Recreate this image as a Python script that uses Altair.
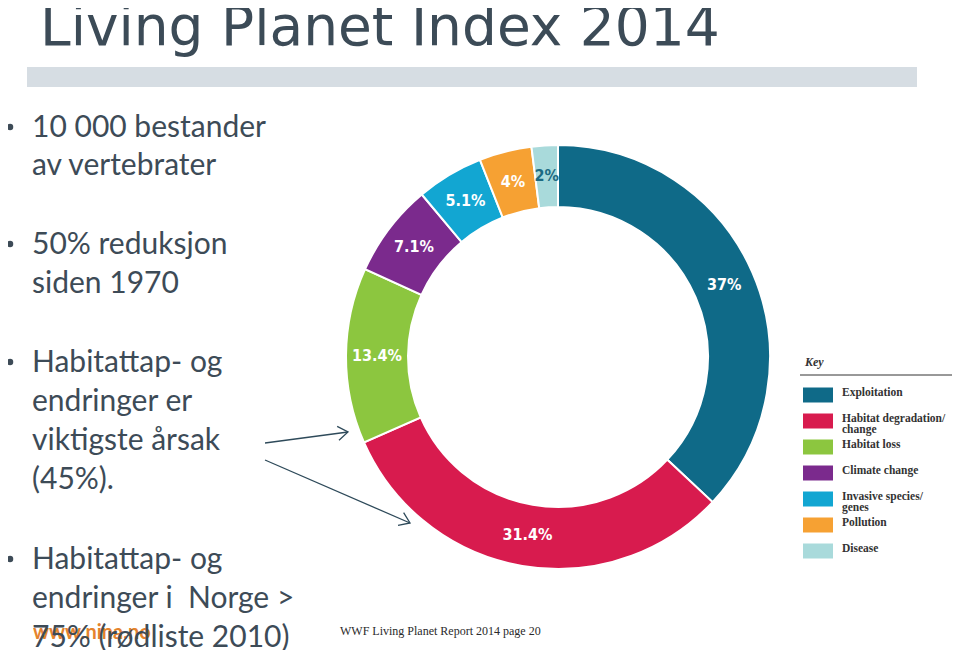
import altair as alt
import pandas as pd

# ---- data ----
causes = ["Exploitation", "Habitat degradation/change", "Habitat loss",
          "Climate change", "Invasive species/genes", "Pollution", "Disease"]
shares = [37, 31.4, 13.4, 7.1, 5.1, 4, 2]
pct_labels = ["37%", "31.4%", "13.4%", "7.1%", "5.1%", "4%", "2%"]
legend_labels = ["Exploitation", "Habitat degradation/\nchange", "Habitat loss",
                 "Climate change", "Invasive species/\ngenes", "Pollution", "Disease"]
colors = ["#0f6a88", "#d81b4e", "#8cc63f", "#7b2a8d", "#12a6d2", "#f6a133", "#a9dadb"]

title_text = "Living Planet Index 2014"
bullets = [
    ["10 000 bestander", "av vertebrater"],
    ["50% reduksjon", "siden 1970"],
    ["Habitattap- og", "endringer er", "viktigste årsak", "(45%)."],
    ["Habitattap- og", "endringer i\u00a0 Norge >", "75% (rødliste 2010)"],
]
source_text = "WWF Living Planet Report 2014 page 20"
site_text = "www.nina.no"

df = pd.DataFrame({"cause": causes, "share": shares, "pct": pct_labels,
                   "leg": legend_labels, "idx": list(range(len(causes)))})
one = pd.DataFrame({"a": [0]})

TEXT_COL = "#3d4b57"
BODY_FONT = "Lato"

color_enc = alt.Color("cause:N", scale=alt.Scale(domain=causes, range=colors), legend=None)
CX, CY = 550, 349

base = alt.Chart(df).encode(
    theta=alt.Theta("share:Q", stack=True),
    order=alt.Order("idx:Q"),
)
arcs = base.mark_arc(outerRadius=212, innerRadius=150, stroke="white", strokeWidth=2).encode(
    color=color_enc, x=alt.value(CX), y=alt.value(CY))
pct = base.mark_text(radius=181, font="'DejaVu Sans Condensed', 'Liberation Sans Narrow', Roboto",
                     fontSize=16, fontWeight="bold").encode(
    text="pct:N", x=alt.value(CX), y=alt.value(CY),
    color=alt.condition(alt.datum.cause == "Disease", alt.value("#1c6a82"), alt.value("white")))

# legend (built from categories)
leg_y = alt.Y("cause:N", sort=causes,
              scale=alt.Scale(type="point", range=[387, 543], padding=0), axis=None)
leg_sw = alt.Chart(df).mark_point(shape="M-1,-0.5H1V0.5H-1Z", filled=True, size=900,
                                  opacity=1, strokeWidth=0).encode(
    y=leg_y, x=alt.value(810), color=color_enc)
leg_tx = alt.Chart(df).mark_text(align="left", baseline="middle", lineBreak="\n",
                                 font="Liberation Serif", fontSize=11.5, fontWeight="bold",
                                 color="#333333", lineHeight=11, dy=-2).encode(
    y=leg_y, x=alt.value(834), text="leg:N")
key_t = alt.Chart(one).mark_text(align="left", baseline="middle", font="Liberation Serif",
                                 fontSize=12, fontStyle="italic", fontWeight="bold",
                                 color="#333333", text="Key").encode(
    x=alt.value(797), y=alt.value(354))
key_rule = alt.Chart(one).mark_rule(color="#333333", strokeWidth=1).encode(
    x=alt.value(792), x2=alt.value(944), y=alt.value(367))

# slide decorations
bar = alt.Chart(one).mark_rect(color="#d6dde3").encode(
    x=alt.value(19), x2=alt.value(909), y=alt.value(59), y2=alt.value(79))
title = alt.Chart(one).mark_text(align="left", baseline="alphabetic", font="DejaVu Sans",
                                 fontSize=55, color="#3c4b57", text=title_text).encode(
    x=alt.value(32), y=alt.value(37))

layers = [bar, title]
site = alt.Chart(one).mark_text(align="left", baseline="middle", font=BODY_FONT, fontSize=20,
                                fontWeight="bold", color="#e47d22", opacity=0.95,
                                text=site_text).encode(x=alt.value(25), y=alt.value(625))
layers.append(site)

starts = [129, 246, 364, 561]
gaps = [38, 39, 39, 39]
for block, y0, g in zip(bullets, starts, gaps):
    layers.append(alt.Chart(one).mark_point(shape="circle", filled=True, size=42, opacity=1,
                                            color=TEXT_COL).encode(
        x=alt.value(2), y=alt.value(y0 - 10)))
    for i, line in enumerate(block):
        layers.append(alt.Chart(one).mark_text(align="left", baseline="alphabetic",
                                               font=BODY_FONT, fontSize=30, color=TEXT_COL,
                                               text=line).encode(
            x=alt.value(24), y=alt.value(y0 + i * g)))

source = alt.Chart(one).mark_text(align="left", baseline="middle", font="Liberation Serif",
                                  fontSize=12, color="#2a2a2a", text=source_text).encode(
    x=alt.value(332), y=alt.value(623))

ARROW = "#2e4a5a"
arrows = [
    alt.Chart(one).mark_rule(color=ARROW, strokeWidth=1.3).encode(
        x=alt.value(257), y=alt.value(435), x2=alt.value(340), y2=alt.value(424)),
    alt.Chart(one).mark_point(shape="M-1,-0.7L0,0L-1,0.7", filled=False, size=400,
                              color=ARROW, strokeWidth=1.3, angle=352.5, opacity=1).encode(
        x=alt.value(340), y=alt.value(424)),
    alt.Chart(one).mark_rule(color=ARROW, strokeWidth=1.3).encode(
        x=alt.value(257), y=alt.value(452), x2=alt.value(402), y2=alt.value(515)),
    alt.Chart(one).mark_point(shape="M-1,-0.7L0,0L-1,0.7", filled=False, size=400,
                              color=ARROW, strokeWidth=1.3, angle=23.5, opacity=1).encode(
        x=alt.value(402), y=alt.value(515)),
]

chart = alt.layer(
    *layers, arcs, pct, leg_sw, leg_tx, key_t, key_rule, source, *arrows
).properties(width=944, height=642, autosize="none", padding=0
).configure_view(stroke=None)

chart.save("out.html", embed_options={"renderer": "svg", "actions": False})
